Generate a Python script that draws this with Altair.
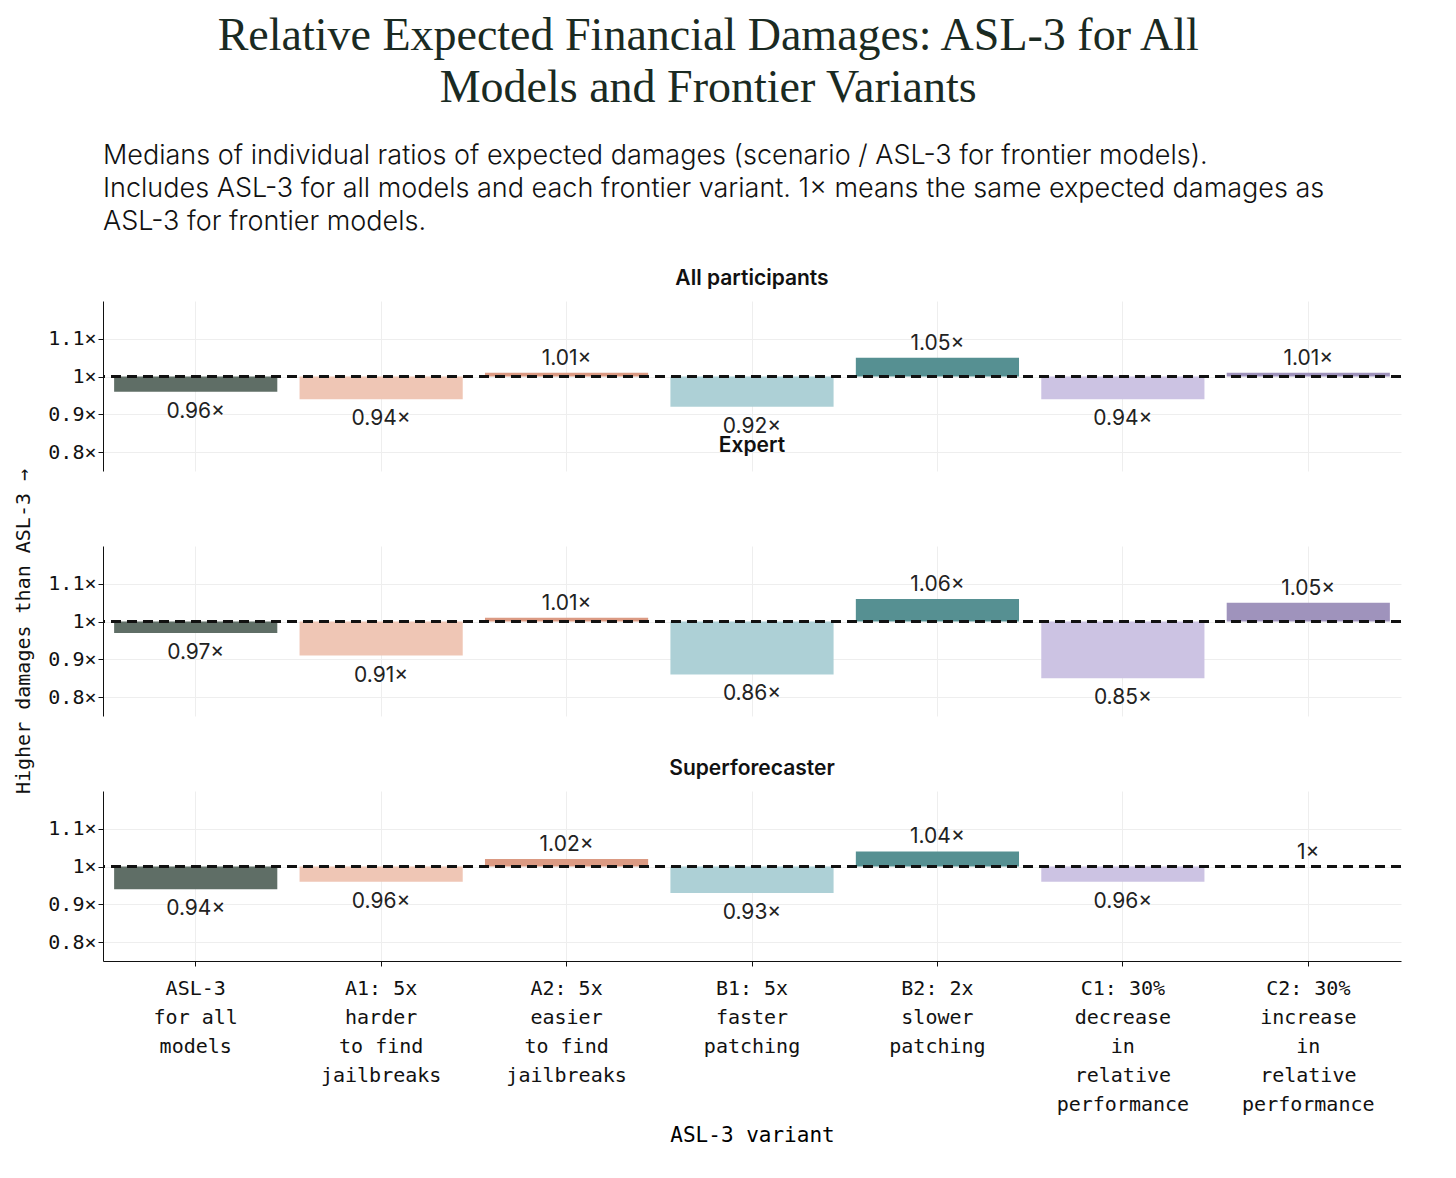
import altair as alt
import pandas as pd

variants = ["ASL-3|for all|models", "A1: 5x|harder|to find|jailbreaks", "A2: 5x|easier|to find|jailbreaks",
            "B1: 5x|faster|patching", "B2: 2x|slower|patching", "C1: 30%|decrease|in|relative|performance",
            "C2: 30%|increase|in|relative|performance"]
colors = ["#56665e", "#eec3b1", "#d9957c", "#a9ced4", "#4d8a8c", "#c9c0e2", "#9a8db8"]
groups = ["All participants", "Expert", "Superforecaster"]
all_vals = [0.96, 0.94, 1.01, 0.92, 1.05, 0.94, 1.01]
expert_vals = [0.97, 0.91, 1.01, 0.86, 1.06, 0.85, 1.05]
super_vals = [0.94, 0.96, 1.02, 0.93, 1.04, 0.96, 1.0]

MONO = "DejaVu Sans Mono"
SANS = "Inter"


def panel(name, vals, show_x, show_ytitle):
    df = pd.DataFrame({"variant": variants, "value": vals, "base": 1.0})
    df["label"] = df["value"].map(lambda v: f"{v:g}×")
    x = alt.X("variant:N", sort=variants, title="ASL-3 variant" if show_x else None,
              scale=alt.Scale(paddingInner=0.12, paddingOuter=0.06),
              axis=alt.Axis(labels=show_x, ticks=show_x, domain=show_x, labelAngle=0,
                            labelExpr="split(datum.label, '|')",
                            labelFont=MONO, labelFontSize=20, labelColor="#111", labelLineHeight=29,
                            titleFont=MONO, titleFontSize=21, titleFontWeight="normal", titlePadding=10,
                            grid=True, gridColor="#eeeeee", domainColor="#111", tickColor="#111",
                            labelPadding=12))
    y = alt.Y("value:Q", scale=alt.Scale(domain=[0.75, 1.16]),
              title="Higher damages than ASL-3 →" if show_ytitle else None,
              axis=alt.Axis(values=[0.8, 0.9, 1.0, 1.1], labelExpr="datum.value + '×'",
                            labelFont=MONO, labelFontSize=20, labelColor="#111",
                            titleFont=MONO, titleFontSize=20, titleFontWeight="normal", titleColor="#111",
                            gridColor="#eeeeee", domainColor="#111", tickColor="#111", titlePadding=14))
    base = alt.Chart(df)
    bars = base.mark_bar(opacity=0.95).encode(
        x=x, y=y, y2="base:Q",
        color=alt.Color("variant:N", sort=variants, scale=alt.Scale(domain=variants, range=colors), legend=None),
    )
    rule = base.mark_rule(strokeDash=[10, 6], strokeWidth=3, color="#111").encode(y=alt.datum(1.0))
    up = base.transform_filter("datum.value >= 1").mark_text(
        dy=-14, font=SANS, fontSize=21, color="#222").encode(x=alt.X("variant:N", sort=variants), y="value:Q", text="label:N")
    down = base.transform_filter("datum.value < 1").mark_text(
        dy=20, font=SANS, fontSize=21, color="#222").encode(x=alt.X("variant:N", sort=variants), y="value:Q", text="label:N")
    return (bars + rule + up + down).properties(
        width=1298, height=170,
        title=alt.TitleParams(name, font=SANS, fontSize=21, fontWeight=600, color="#111", anchor="middle", offset=12),
    )


sub_lines = ["Medians of individual ratios of expected damages (scenario / ASL-3 for frontier models).",
             "Includes ASL-3 for all models and each frontier variant. 1× means the same expected damages as",
             "ASL-3 for frontier models."]
sub = alt.Chart(pd.DataFrame({"t": sub_lines, "i": [0, 1, 2]})).mark_text(
    align="left", baseline="top", font=SANS, fontSize=27, color="#111", fontWeight=300
).encode(x=alt.value(0), y=alt.Y("i:O", axis=None), text="t:N").properties(width=1298, height=100)

chart = alt.vconcat(
    sub,
    panel(groups[0], all_vals, False, False),
    panel(groups[1], expert_vals, False, True),
    panel(groups[2], super_vals, True, False),
    spacing=75,
    bounds="flush",
).properties(
    title=alt.TitleParams(["Relative Expected Financial Damages: ASL-3 for All", "Models and Frontier Variants"],
                          font="Liberation Serif", fontSize=46, fontWeight="normal", color="#1a2a22",
                          anchor="middle", lineHeight=52, offset=14)
).configure_view(stroke=None)

chart.save("out.html", embed_options={"renderer": "svg", "actions": False})
